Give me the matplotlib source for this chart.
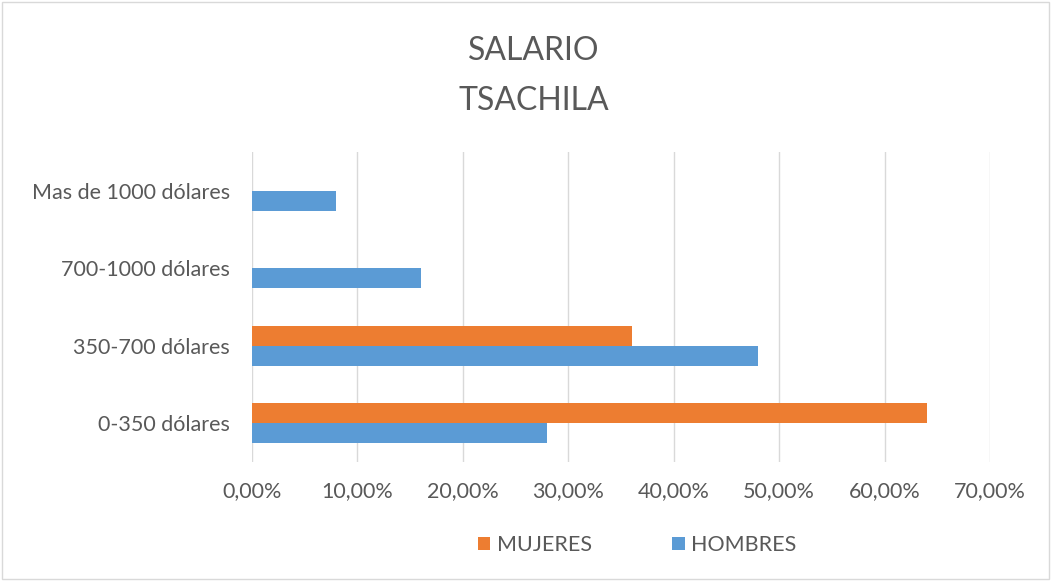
import matplotlib.pyplot as plt
import numpy as np
from matplotlib.patches import Rectangle

# data
categories = ['0-350 dólares', '350-700 dólares', '700-1000 dólares', 'Mas de 1000 dólares']
hombres = [28, 48, 16, 8]
mujeres = [64, 36, 0, 0]
xticks = [0, 10, 20, 30, 40, 50, 60, 70]
xtick_labels = ['0,00%', '10,00%', '20,00%', '30,00%', '40,00%', '50,00%', '60,00%', '70,00%']

plt.rcParams['font.family'] = ['Lato', 'DejaVu Sans']
txt = '#595959'

fig = plt.figure(figsize=(10.51, 5.81), dpi=100)
ax = fig.add_axes([0.2398, 0.2048, 0.7022, 0.5336])

y = np.arange(len(categories))
h = 0.26
ax.barh(y - h / 2, hombres, height=h, color='#5B9BD5', label='HOMBRES', zorder=3)
ax.barh(y + h / 2, mujeres, height=h, color='#ED7D31', label='MUJERES', zorder=3)

ax.set_xlim(0, 70)
ax.set_ylim(-0.5, 3.5)
ax.set_xticks(xticks)
ax.set_xticklabels(xtick_labels)
ax.set_yticks(y)
ax.set_yticklabels(categories)
ax.tick_params(axis='both', length=0, labelsize=15.5, labelcolor=txt)
ax.tick_params(axis='x', pad=14)
ax.tick_params(axis='y', pad=16)
ax.grid(axis='x', color='#D9D9D9', linewidth=1, zorder=0)
for s in ax.spines.values():
    s.set_visible(False)

fig.text(0.508, 0.912, 'SALARIO', ha='center', va='center', fontsize=23, color=txt)
fig.text(0.508, 0.826, 'TSACHILA', ha='center', va='center', fontsize=23, color=txt)

handles, labels = ax.get_legend_handles_labels()
fig.legend(handles[::-1], labels[::-1], loc='center', bbox_to_anchor=(0.606, 0.062), ncol=2,
           frameon=False, fontsize=15.5, labelcolor=txt, handlelength=0.6, handleheight=0.6,
           handletextpad=0.3, columnspacing=3.7)

fig.patches.append(Rectangle((0.002, 0.003), 0.996, 0.994, transform=fig.transFigure,
                             fill=False, edgecolor='#D9D9D9', linewidth=1))

fig.savefig('out.png', dpi=100)
